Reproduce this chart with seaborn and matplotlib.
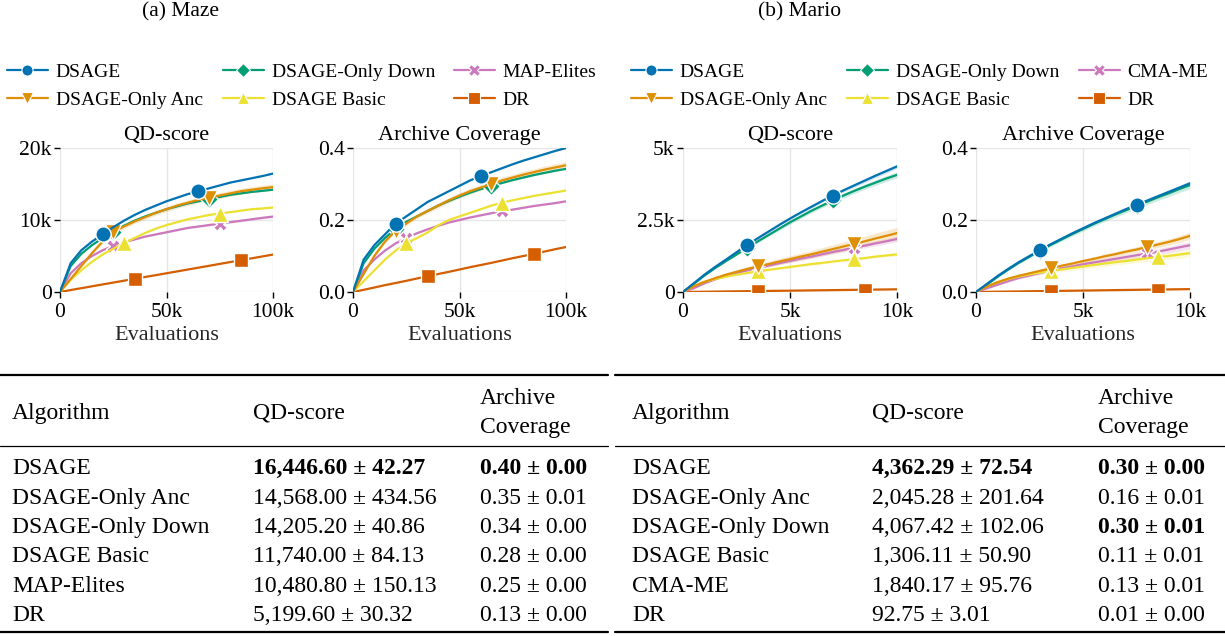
import numpy as np
import pandas as pd
import matplotlib
matplotlib.use("Agg")
import matplotlib.pyplot as plt
from matplotlib.lines import Line2D
import seaborn as sns

# ---------------- data ----------------
maze_x = [0, 5000, 10000, 15000, 20000, 25000, 30000, 35000, 40000, 45000, 50000,
          55000, 60000, 65000, 70000, 75000, 80000, 85000, 90000, 95000, 100000]
mario_x = [0, 500, 1000, 1500, 2000, 2500, 3000, 3500, 4000, 4500, 5000,
           5500, 6000, 6500, 7000, 7500, 8000, 8500, 9000, 9500, 10000]

maze_algos = ["DSAGE", "DSAGE-Only Anc", "DSAGE-Only Down", "DSAGE Basic", "MAP-Elites", "DR"]
mario_algos = ["DSAGE", "DSAGE-Only Anc", "DSAGE-Only Down", "DSAGE Basic", "CMA-ME", "DR"]

maze_qd = {
    "DSAGE": [0, 4000, 5800, 7000, 8000, 9000, 9900, 10700, 11400, 12000, 12600,
              13100, 13600, 14000, 14400, 14800, 15200, 15500, 15800, 16100, 16447],
    "DSAGE-Only Anc": [0, 1800, 3600, 5400, 7000, 8300, 9100, 9800, 10400, 11000, 11500,
                       12000, 12400, 12800, 13100, 13400, 13700, 14000, 14200, 14400, 14568],
    "DSAGE-Only Down": [0, 3600, 5300, 6500, 7500, 8400, 9200, 9900, 10500, 11000, 11500,
                        11900, 12300, 12600, 12900, 13200, 13500, 13700, 13900, 14050, 14205],
    "DSAGE Basic": [0, 1700, 3000, 4200, 5200, 6000, 6800, 7500, 8200, 8800, 9300,
                    9700, 10100, 10400, 10700, 10900, 11100, 11300, 11500, 11600, 11740],
    "MAP-Elites": [0, 2600, 4000, 5000, 5800, 6400, 6900, 7300, 7700, 8000, 8300,
                   8600, 8900, 9100, 9300, 9500, 9700, 9900, 10100, 10300, 10481],
    "DR": [0, 270, 530, 790, 1050, 1310, 1570, 1830, 2090, 2340, 2600,
           2860, 3120, 3380, 3640, 3900, 4160, 4420, 4680, 4940, 5200],
}
maze_cov = {
    "DSAGE": [0, 0.09, 0.13, 0.16, 0.19, 0.21, 0.23, 0.25, 0.265, 0.28, 0.295,
              0.31, 0.322, 0.333, 0.344, 0.355, 0.365, 0.374, 0.383, 0.392, 0.40],
    "DSAGE-Only Anc": [0, 0.05, 0.10, 0.14, 0.17, 0.19, 0.21, 0.225, 0.24, 0.255, 0.268,
                       0.28, 0.29, 0.30, 0.31, 0.318, 0.326, 0.333, 0.34, 0.346, 0.352],
    "DSAGE-Only Down": [0, 0.08, 0.12, 0.15, 0.175, 0.195, 0.21, 0.225, 0.24, 0.253, 0.265,
                        0.276, 0.286, 0.295, 0.303, 0.311, 0.318, 0.325, 0.331, 0.337, 0.342],
    "DSAGE Basic": [0, 0.03, 0.06, 0.09, 0.115, 0.135, 0.15, 0.165, 0.185, 0.20, 0.21,
                    0.22, 0.23, 0.24, 0.248, 0.255, 0.261, 0.267, 0.272, 0.277, 0.282],
    "MAP-Elites": [0, 0.06, 0.09, 0.115, 0.135, 0.15, 0.163, 0.174, 0.184, 0.193, 0.20,
                   0.207, 0.213, 0.219, 0.224, 0.229, 0.234, 0.239, 0.243, 0.247, 0.252],
    "DR": [0, 0.006, 0.0125, 0.019, 0.025, 0.031, 0.0375, 0.044, 0.05, 0.056, 0.0625,
           0.069, 0.075, 0.081, 0.0875, 0.094, 0.10, 0.106, 0.1125, 0.119, 0.125],
}
mario_qd = {
    "DSAGE": [0, 300, 600, 870, 1120, 1380, 1630, 1870, 2100, 2330, 2550,
              2760, 2960, 3160, 3350, 3530, 3700, 3870, 4040, 4200, 4362],
    "DSAGE-Only Anc": [0, 200, 350, 480, 600, 700, 800, 890, 970, 1060, 1140,
                       1230, 1310, 1400, 1490, 1580, 1670, 1760, 1860, 1950, 2045],
    "DSAGE-Only Down": [0, 280, 570, 830, 1070, 1300, 1530, 1760, 1980, 2200, 2420,
                        2620, 2820, 3000, 3180, 3350, 3510, 3660, 3800, 3940, 4067],
    "DSAGE Basic": [0, 200, 350, 450, 530, 600, 660, 720, 770, 820, 870,
                    920, 970, 1010, 1060, 1100, 1140, 1180, 1230, 1270, 1306],
    "CMA-ME": [0, 130, 300, 440, 560, 660, 750, 840, 920, 1000, 1080,
               1160, 1230, 1310, 1390, 1460, 1540, 1610, 1690, 1760, 1840],
    "DR": [0, 5, 9, 14, 19, 23, 28, 32, 37, 42, 46,
           51, 56, 60, 65, 70, 74, 79, 84, 88, 93],
}
mario_cov = {
    "DSAGE": [0, 0.022, 0.044, 0.064, 0.083, 0.10, 0.117, 0.133, 0.148, 0.163, 0.177,
              0.191, 0.204, 0.217, 0.23, 0.242, 0.254, 0.266, 0.278, 0.29, 0.302],
    "DSAGE-Only Anc": [0, 0.015, 0.027, 0.037, 0.045, 0.052, 0.059, 0.066, 0.073, 0.079, 0.086,
                       0.092, 0.099, 0.105, 0.112, 0.118, 0.125, 0.132, 0.139, 0.147, 0.156],
    "DSAGE-Only Down": [0, 0.02, 0.042, 0.062, 0.081, 0.098, 0.115, 0.131, 0.146, 0.161, 0.175,
                        0.189, 0.202, 0.215, 0.227, 0.239, 0.251, 0.263, 0.274, 0.286, 0.297],
    "DSAGE Basic": [0, 0.015, 0.027, 0.036, 0.043, 0.049, 0.054, 0.059, 0.063, 0.067, 0.071,
                    0.075, 0.079, 0.083, 0.086, 0.09, 0.094, 0.097, 0.10, 0.104, 0.108],
    "CMA-ME": [0, 0.01, 0.02, 0.03, 0.039, 0.046, 0.053, 0.06, 0.066, 0.071, 0.077,
               0.082, 0.087, 0.092, 0.097, 0.102, 0.107, 0.112, 0.118, 0.124, 0.13],
    "DR": [0, 0.0004, 0.0008, 0.0012, 0.0016, 0.002, 0.0024, 0.0028, 0.0032, 0.0036, 0.004,
           0.0044, 0.0048, 0.0052, 0.0056, 0.006, 0.0064, 0.0068, 0.0072, 0.0076, 0.008],
}

# final std (from the tables), used for the shaded bands
maze_qd_std = {"DSAGE": 42.27, "DSAGE-Only Anc": 434.56, "DSAGE-Only Down": 40.86,
               "DSAGE Basic": 84.13, "MAP-Elites": 150.13, "DR": 30.32}
maze_cov_std = {"DSAGE": 0.002, "DSAGE-Only Anc": 0.01, "DSAGE-Only Down": 0.002,
                "DSAGE Basic": 0.002, "MAP-Elites": 0.002, "DR": 0.001}
mario_qd_std = {"DSAGE": 72.54, "DSAGE-Only Anc": 201.64, "DSAGE-Only Down": 102.06,
                "DSAGE Basic": 50.90, "CMA-ME": 95.76, "DR": 3.01}
mario_cov_std = {"DSAGE": 0.004, "DSAGE-Only Anc": 0.01, "DSAGE-Only Down": 0.01,
                 "DSAGE Basic": 0.01, "CMA-ME": 0.01, "DR": 0.001}

maze_table_alg = ["DSAGE", "DSAGE-Only Anc", "DSAGE-Only Down", "DSAGE Basic", "MAP-Elites", "DR"]
maze_table_qd = ["16,446.60 ± 42.27", "14,568.00 ± 434.56", "14,205.20 ± 40.86",
                 "11,740.00 ± 84.13", "10,480.80 ± 150.13", "5,199.60 ± 30.32"]
maze_table_cov = ["0.40 ± 0.00", "0.35 ± 0.01", "0.34 ± 0.00", "0.28 ± 0.00", "0.25 ± 0.00", "0.13 ± 0.00"]
maze_bold_qd = [True, False, False, False, False, False]
maze_bold_cov = [True, False, False, False, False, False]

mario_table_alg = ["DSAGE", "DSAGE-Only Anc", "DSAGE-Only Down", "DSAGE Basic", "CMA-ME", "DR"]
mario_table_qd = ["4,362.29 ± 72.54", "2,045.28 ± 201.64", "4,067.42 ± 102.06",
                  "1,306.11 ± 50.90", "1,840.17 ± 95.76", "92.75 ± 3.01"]
mario_table_cov = ["0.30 ± 0.00", "0.16 ± 0.01", "0.30 ± 0.01", "0.11 ± 0.01", "0.13 ± 0.01", "0.01 ± 0.00"]
mario_bold_qd = [True, False, False, False, False, False]
mario_bold_cov = [True, False, True, False, False, False]

# ---------------- style ----------------
sns.set_theme(style="whitegrid")
plt.rcParams["font.family"] = ["Liberation Serif", "DejaVu Serif"]
plt.rcParams["axes.edgecolor"] = "white"
plt.rcParams["grid.color"] = "#e6e6e6"
plt.rcParams["text.color"] = "black"
plt.rcParams["xtick.color"] = "black"
plt.rcParams["ytick.color"] = "black"

pal = sns.color_palette("colorblind")
colors = {"DSAGE": pal[0], "DSAGE-Only Anc": pal[1], "DSAGE-Only Down": pal[2],
          "DSAGE Basic": pal[8], "MAP-Elites": pal[4], "CMA-ME": pal[4], "DR": pal[3]}
markers = {"DSAGE": "o", "DSAGE-Only Anc": "v", "DSAGE-Only Down": "D",
           "DSAGE Basic": "^", "MAP-Elites": "X", "CMA-ME": "X", "DR": "s"}
msizes = {"o": 11, "v": 11, "D": 9, "^": 11, "X": 10, "s": 10}
zorders = {"DSAGE": 6, "DSAGE-Only Anc": 5, "DSAGE-Only Down": 4, "DSAGE Basic": 3,
           "MAP-Elites": 2, "CMA-ME": 2, "DR": 1}

mark_idx = {
    "maze_qd": {"DSAGE": [4, 13], "DSAGE-Only Anc": [5, 14], "DSAGE-Only Down": [5, 14],
                "DSAGE Basic": [6, 15], "MAP-Elites": [5, 15], "DR": [7, 17]},
    "maze_cov": {"DSAGE": [4, 12], "DSAGE-Only Anc": [4, 13], "DSAGE-Only Down": [4, 13],
                 "DSAGE Basic": [5, 14], "MAP-Elites": [5, 14], "DR": [7, 17]},
    "mario_qd": {"DSAGE": [6, 14], "DSAGE-Only Anc": [7, 16], "DSAGE-Only Down": [6, 14],
                 "DSAGE Basic": [7, 16], "CMA-ME": [7, 16], "DR": [7, 17]},
    "mario_cov": {"DSAGE": [6, 15], "DSAGE-Only Anc": [7, 16], "DSAGE-Only Down": [6, 15],
                  "DSAGE Basic": [7, 17], "CMA-ME": [7, 16], "DR": [7, 17]},
}

W, H = 1225, 636
fig = plt.figure(figsize=(W / 100, H / 100), dpi=100)


def fx(px):
    return px / W


def fy(py):
    return 1 - py / H


def make_ax(left_px, right_px, top_px, bottom_px):
    return fig.add_axes([fx(left_px), fy(bottom_px), (right_px - left_px) / W, (bottom_px - top_px) / H])


def draw_panel(ax, xs, series, stds, algos, key, xlim, ylim, xticks, xlabels, yticks, ylabels, title):
    for alg in algos:
        y = np.array(series[alg], dtype=float)
        band = y * (stds[alg] / y[-1])
        ax.fill_between(xs, y - band, y + band, color=colors[alg], alpha=0.2, linewidth=0,
                        zorder=zorders[alg])
        m = markers[alg]
        sns.lineplot(x=xs, y=y, ax=ax, color=colors[alg], linewidth=1.6, marker=m,
                     markersize=msizes[m], markevery=mark_idx[key][alg],
                     markeredgecolor="white", markeredgewidth=1.0,
                     zorder=zorders[alg] + 10, errorbar=None, sort=False)
    ax.set_xlim(*xlim)
    ax.set_ylim(*ylim)
    ax.set_xticks(xticks)
    ax.set_xticklabels(xlabels)
    ax.set_yticks(yticks)
    ax.set_yticklabels(ylabels)
    ax.tick_params(axis="both", labelsize=15.5, length=4, width=1.0, direction="out",
                   bottom=True, left=True)
    ax.tick_params(axis="x", pad=4)
    ax.tick_params(axis="y", pad=2)
    ax.set_xlabel("Evaluations", fontsize=16, labelpad=3)
    ax.set_ylabel("")
    ax.set_title(title, fontsize=16, pad=6)
    for s in ax.spines.values():
        s.set_visible(False)
    ax.grid(True, color="#e6e6e6", linewidth=1.0)


top_px, bot_px = 148, 292
ax1 = make_ax(60, 273, top_px, bot_px)
draw_panel(ax1, maze_x, maze_qd, maze_qd_std, maze_algos, "maze_qd", (0, 100000), (0, 20000),
           [0, 50000, 100000], ["0", "50k", "100k"], [0, 10000, 20000], ["0", "10k", "20k"], "QD-score")
ax2 = make_ax(353, 566, top_px, bot_px)
draw_panel(ax2, maze_x, maze_cov, maze_cov_std, maze_algos, "maze_cov", (0, 100000), (0, 0.4),
           [0, 50000, 100000], ["0", "50k", "100k"], [0, 0.2, 0.4], ["0.0", "0.2", "0.4"], "Archive Coverage")
ax3 = make_ax(683, 897, top_px, bot_px)
draw_panel(ax3, mario_x, mario_qd, mario_qd_std, mario_algos, "mario_qd", (0, 10000), (0, 5000),
           [0, 5000, 10000], ["0", "5k", "10k"], [0, 2500, 5000], ["0", "2.5k", "5k"], "QD-score")
ax4 = make_ax(976, 1190, top_px, bot_px)
draw_panel(ax4, mario_x, mario_cov, mario_cov_std, mario_algos, "mario_cov", (0, 10000), (0, 0.4),
           [0, 5000, 10000], ["0", "5k", "10k"], [0, 0.2, 0.4], ["0.0", "0.2", "0.4"], "Archive Coverage")

# panel titles
fig.text(fx(180), fy(12), "(a) Maze", ha="center", va="center", fontsize=15.5)
fig.text(fx(800), fy(12), "(b) Mario", ha="center", va="center", fontsize=15.5)


# legends (three columns per panel)
def handle(alg):
    return Line2D([], [], color=colors[alg], linewidth=1.6, marker=markers[alg],
                  markersize=8 if markers[alg] != "D" else 7, markeredgecolor="white",
                  markeredgewidth=0.8)


def column_legend(algs, x_px):
    lg = fig.legend([handle(a) for a in algs], algs, loc="upper left",
                    bbox_to_anchor=(fx(x_px), fy(63)), frameon=False, fontsize=14,
                    handlelength=2.1, handletextpad=0.4, labelspacing=0.56,
                    borderpad=0, borderaxespad=0)
    return lg


column_legend(["DSAGE", "DSAGE-Only Anc"], 7)
column_legend(["DSAGE-Only Down", "DSAGE Basic"], 223)
column_legend(["MAP-Elites", "DR"], 454)
column_legend(["DSAGE", "DSAGE-Only Anc"], 631)
column_legend(["DSAGE-Only Down", "DSAGE Basic"], 847)
column_legend(["CMA-ME", "DR"], 1079)


# tables
def hline(x0, x1, y, lw):
    fig.add_artist(Line2D([fx(x0), fx(x1)], [fy(y), fy(y)], color="black", linewidth=lw))


row_y = [466, 496, 525, 554, 584, 613]
half_cap = 8


def draw_table(x0, x1, cols, algs, qds, covs, bq, bc):
    hline(x0, x1, 375, 1.6)
    hline(x0, x1, 446, 0.9)
    hline(x0, x1, 632, 1.6)
    fs = 17
    fig.text(fx(cols[0]), fy(411 + half_cap), "Algorithm", ha="left", va="baseline", fontsize=fs)
    fig.text(fx(cols[1]), fy(411 + half_cap), "QD-score", ha="left", va="baseline", fontsize=fs)
    fig.text(fx(cols[2]), fy(396 + half_cap), "Archive", ha="left", va="baseline", fontsize=fs)
    fig.text(fx(cols[2]), fy(425 + half_cap), "Coverage", ha="left", va="baseline", fontsize=fs)
    for i, yy in enumerate(row_y):
        fig.text(fx(cols[0]), fy(yy + half_cap), algs[i], ha="left", va="baseline", fontsize=fs)
        fig.text(fx(cols[1]), fy(yy + half_cap), qds[i], ha="left", va="baseline", fontsize=fs,
                 fontweight="bold" if bq[i] else "normal")
        fig.text(fx(cols[2]), fy(yy + half_cap), covs[i], ha="left", va="baseline", fontsize=fs,
                 fontweight="bold" if bc[i] else "normal")


draw_table(0, 608, [12, 253, 480], maze_table_alg, maze_table_qd, maze_table_cov,
           maze_bold_qd, maze_bold_cov)
draw_table(615, 1225, [632, 872, 1098], mario_table_alg, mario_table_qd, mario_table_cov,
           mario_bold_qd, mario_bold_cov)

fig.savefig("out.png", dpi=100, facecolor="white")
